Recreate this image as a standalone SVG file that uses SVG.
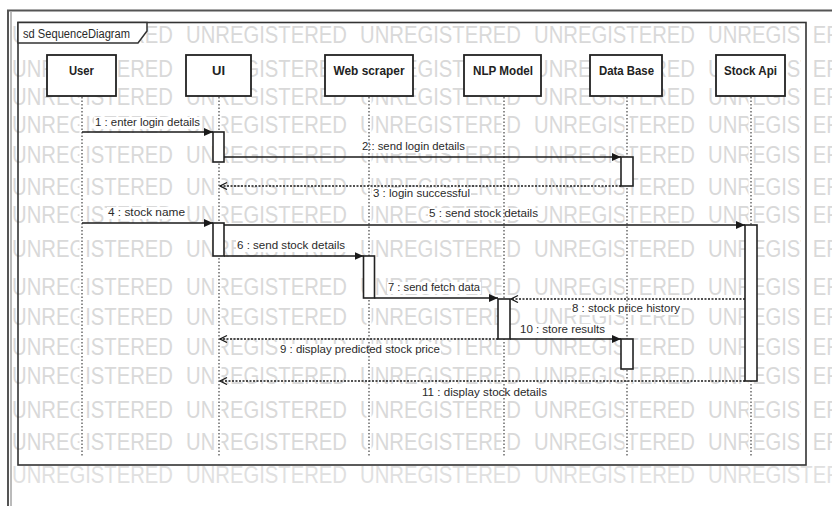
<svg xmlns="http://www.w3.org/2000/svg" xmlns:xlink="http://www.w3.org/1999/xlink" width="832" height="506" viewBox="0 0 832 506">
<style>
.wm{font-family:"Liberation Sans",Arial,sans-serif;font-size:23px;fill:#d9d9d9}
.lbl{font-family:"Liberation Sans",Arial,sans-serif;font-size:11.5px;fill:#2a2a2a}
.head{font-family:"Liberation Sans",Arial,sans-serif;font-size:13px;font-weight:bold;fill:#222;text-anchor:middle}
.box{fill:#fff;stroke:#222;stroke-width:1.8}
.act{fill:#fff;stroke:#222;stroke-width:1.6}
.life{stroke:#444;stroke-width:1.2;stroke-dasharray:1.5 2;fill:none}
.halo{stroke:#fff;stroke-width:5;fill:none}
.msg{stroke:#1a1a1a;stroke-width:1.7;fill:none}
.ret{stroke:#1a1a1a;stroke-width:1.5;stroke-dasharray:2 1.5;fill:none}
.bg{fill:#fff}
</style>
<defs>
<marker id="fa" markerUnits="userSpaceOnUse" markerWidth="10" markerHeight="8" refX="9" refY="4" orient="auto"><path d="M0,0 L9,4 L0,8 z" fill="#1a1a1a"/></marker>
<marker id="oa" markerUnits="userSpaceOnUse" markerWidth="10" markerHeight="10" refX="8" refY="4" orient="auto"><path d="M1,0.5 L8,4 L1,7.5" fill="none" stroke="#1a1a1a" stroke-width="1.3"/></marker>
<g id="wmrow" class="wm">
<text x="12" y="0" textLength="161" lengthAdjust="spacingAndGlyphs">UNREGISTERED</text>
<text x="186" y="0" textLength="161" lengthAdjust="spacingAndGlyphs">UNREGISTERED</text>
<text x="360" y="0" textLength="161" lengthAdjust="spacingAndGlyphs">UNREGISTERED</text>
<text x="534" y="0" textLength="161" lengthAdjust="spacingAndGlyphs">UNREGISTERED</text>
<text x="708" y="0" textLength="161" lengthAdjust="spacingAndGlyphs">UNREGISTERED</text>
</g>
</defs>
<rect width="832" height="506" fill="#fff"/>
<g id="watermark">
<use xlink:href="#wmrow" transform="translate(0,43)"/>
<use xlink:href="#wmrow" transform="translate(0,77)"/>
<use xlink:href="#wmrow" transform="translate(0,105)"/>
<use xlink:href="#wmrow" transform="translate(0,133)"/>
<use xlink:href="#wmrow" transform="translate(0,163)"/>
<use xlink:href="#wmrow" transform="translate(0,195)"/>
<use xlink:href="#wmrow" transform="translate(0,223)"/>
<use xlink:href="#wmrow" transform="translate(0,257)"/>
<use xlink:href="#wmrow" transform="translate(0,295)"/>
<use xlink:href="#wmrow" transform="translate(0,325)"/>
<use xlink:href="#wmrow" transform="translate(0,355)"/>
<use xlink:href="#wmrow" transform="translate(0,384)"/>
<use xlink:href="#wmrow" transform="translate(0,418)"/>
<use xlink:href="#wmrow" transform="translate(0,450)"/>
<use xlink:href="#wmrow" transform="translate(0,483)" opacity="0.8"/>
</g>
<g id="halos">
<path class="halo" d="M82,97 V457 M219,97 V457 M369,97 V457 M504,97 V457 M627,97 V457 M751,97 V457"/>
<path d="M807,23 V465" stroke="#fff" stroke-width="12"/>
</g>
<g id="outer-frame" fill="none">
<path d="M8,506 V10.5 H832" stroke="#555" stroke-width="2"/>
<path d="M11,12 V506" stroke="#777" stroke-width="1"/>
</g>
<g id="frame">
<rect x="18" y="22.5" width="788" height="442.5" fill="none" stroke="#333" stroke-width="1.6"/>
<path d="M18,22.5 H147 V31 L138,43 H18 Z" fill="#fff" stroke="#333" stroke-width="1.5"/>
<text x="23" y="38" class="lbl" style="font-size:12px" textLength="107" lengthAdjust="spacingAndGlyphs">sd SequenceDiagram</text>
</g>
<g id="labels">
<rect class="bg" x="94" y="117" width="107" height="12"/>
<text class="lbl" x="95" y="126" textLength="105" lengthAdjust="spacingAndGlyphs">1 : enter login details</text>
<rect class="bg" x="361" y="141" width="105" height="12"/>
<text class="lbl" x="362" y="150" textLength="103" lengthAdjust="spacingAndGlyphs">2:: send login details</text>
<rect class="bg" x="372" y="188" width="99" height="12"/>
<text class="lbl" x="373" y="197" textLength="97" lengthAdjust="spacingAndGlyphs">3 : login successful</text>
<rect class="bg" x="107" y="207" width="79" height="12"/>
<text class="lbl" x="108" y="216" textLength="77" lengthAdjust="spacingAndGlyphs">4 : stock name</text>
<rect class="bg" x="428" y="208" width="111" height="12"/>
<text class="lbl" x="429" y="217" textLength="109" lengthAdjust="spacingAndGlyphs">5 : send stock details</text>
<rect class="bg" x="236" y="240" width="110" height="12"/>
<text class="lbl" x="237" y="249" textLength="108" lengthAdjust="spacingAndGlyphs">6 : send stock details</text>
<rect class="bg" x="387" y="282" width="94" height="12"/>
<text class="lbl" x="388" y="291" textLength="92" lengthAdjust="spacingAndGlyphs">7 : send fetch data</text>
<rect class="bg" x="571" y="303" width="110" height="12"/>
<text class="lbl" x="572" y="312" textLength="108" lengthAdjust="spacingAndGlyphs">8 : stock price history</text>
<rect class="bg" x="519" y="324" width="87" height="12"/>
<text class="lbl" x="520" y="333" textLength="85" lengthAdjust="spacingAndGlyphs">10 : store results</text>
<rect class="bg" x="279" y="344" width="162" height="12"/>
<text class="lbl" x="280" y="353" textLength="160" lengthAdjust="spacingAndGlyphs">9 : display predicted stock price</text>
<rect class="bg" x="421" y="387" width="127" height="12"/>
<text class="lbl" x="422" y="396" textLength="125" lengthAdjust="spacingAndGlyphs">11 : display stock details</text>
</g>
<g id="lifelines">
<path class="life" d="M82,97 V457 M219,97 V457 M369,97 V457 M504,97 V457 M627,97 V457 M751,97 V457"/>
</g>
<g id="User"><rect class="box" x="47" y="55" width="69" height="41"/><text class="head" x="81.5" y="75" textLength="25" lengthAdjust="spacingAndGlyphs">User</text></g>
<g id="UI"><rect class="box" x="186" y="55" width="65" height="41"/><text class="head" x="218.5" y="75">UI</text></g>
<g id="WebScraper"><rect class="box" x="325" y="55" width="88" height="41"/><text class="head" x="369" y="75" textLength="71" lengthAdjust="spacingAndGlyphs">Web scraper</text></g>
<g id="NLPModel"><rect class="box" x="464" y="55" width="77" height="41"/><text class="head" x="503" y="75" textLength="60" lengthAdjust="spacingAndGlyphs">NLP Model</text></g>
<g id="DataBase"><rect class="box" x="590" y="55" width="72" height="41"/><text class="head" x="626.5" y="75" textLength="55" lengthAdjust="spacingAndGlyphs">Data Base</text></g>
<g id="StockApi"><rect class="box" x="716" y="55" width="69" height="41"/><text class="head" x="750.5" y="75" textLength="53" lengthAdjust="spacingAndGlyphs">Stock Api</text></g>
<g id="activations">
<rect class="act" x="213" y="132" width="11" height="30"/>
<rect class="act" x="621" y="157" width="12" height="29"/>
<rect class="act" x="213" y="223" width="11" height="33"/>
<rect class="act" x="745" y="225" width="12" height="156"/>
<rect class="act" x="363.5" y="256" width="11" height="42"/>
<rect class="act" x="498" y="299" width="12" height="40"/>
<rect class="act" x="621" y="339" width="12" height="30"/>
</g>
<g id="connectors">
<line class="msg" x1="82" y1="132" x2="213" y2="132" marker-end="url(#fa)"/>
<line class="msg" x1="224" y1="157" x2="621" y2="157" marker-end="url(#fa)"/>
<line class="ret" x1="621" y1="186" x2="220" y2="186" marker-end="url(#oa)"/>
<line class="msg" x1="82" y1="223" x2="213" y2="223" marker-end="url(#fa)"/>
<line class="msg" x1="224" y1="225" x2="745" y2="225" marker-end="url(#fa)"/>
<line class="msg" x1="224" y1="256" x2="363.5" y2="256" marker-end="url(#fa)"/>
<line class="msg" x1="374.5" y1="298" x2="498" y2="298" marker-end="url(#fa)"/>
<line class="ret" x1="745" y1="299" x2="511" y2="299" marker-end="url(#oa)"/>
<line class="ret" x1="498" y1="339" x2="220" y2="339" marker-end="url(#oa)"/>
<line class="msg" x1="510" y1="339" x2="621" y2="339" marker-end="url(#fa)"/>
<line class="ret" x1="745" y1="381" x2="220" y2="381" marker-end="url(#oa)"/>
</g>
</svg>
